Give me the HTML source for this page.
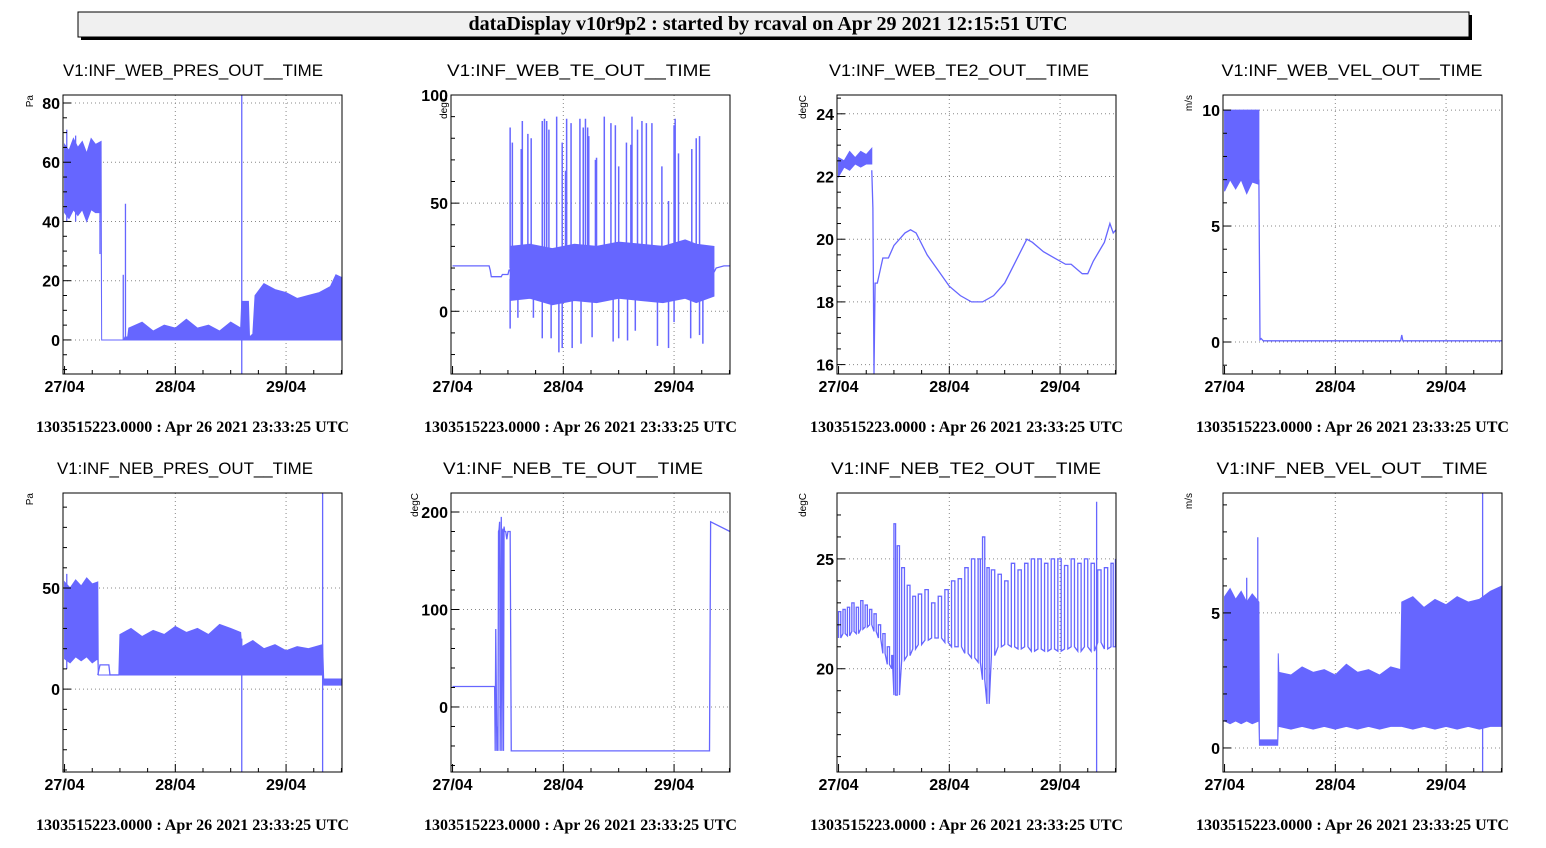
<!DOCTYPE html>
<html><head><meta charset="utf-8">
<style>
html,body{margin:0;padding:0;background:#fff;}
svg{display:block;}
.t{font-family:"Liberation Sans",sans-serif;font-size:17px;fill:#000;}
.tk{font-family:"Liberation Sans",sans-serif;font-size:16px;font-weight:bold;fill:#000;}
.ft{font-family:"Liberation Serif",serif;font-size:16px;font-weight:bold;fill:#000;}
.un{font-family:"Liberation Sans",sans-serif;font-size:10px;fill:#000;}
</style></head>
<body>
<svg id="page" width="1546" height="848" viewBox="0 0 1546 848" xmlns="http://www.w3.org/2000/svg">
<rect x="81" y="15" width="1391" height="25" fill="#000"/>
<rect x="78" y="12" width="1391" height="25" fill="#f0f0f0" stroke="#000" stroke-width="1"/>
<text x="768" y="30" text-anchor="middle" font-family="Liberation Serif, serif" font-weight="bold" font-size="20" textLength="599" lengthAdjust="spacingAndGlyphs">dataDisplay v10r9p2 : started by rcaval on Apr 29 2021 12:15:51 UTC</text>
<g id="panels"></g>
</svg>
<script>
// time axis (days since 27/04 00:00)
const xTickLabels = ["27/04","28/04","29/04"];
const xTickDays = [0,1,2];
const tMin = -0.014, tMax = 2.505;

// ---------- Panel 1: WEB PRES ----------
const p1BandT  = [0,0.04,0.08,0.12,0.16,0.2,0.24,0.28,0.33,0.335,0.53,0.535,0.545,0.55,0.57,0.58,0.7,0.8,0.9,1.0,1.1,1.2,1.3,1.4,1.5,1.59,1.6,1.62,1.66,1.67,1.7,1.72,1.8,1.9,2.0,2.1,2.2,2.3,2.4,2.45,2.505];
const p1BandLo = [43,41,44,42,44,40,44,43,43,0,0,0,0,0,0,0,0,0,0,0,0,0,0,0,0,0,0,0,0,0,0,0,0,0,0,0,0,0,0,0,0];
const p1BandHi = [66,64,68,65,67,63,68,66,67,0,0,0,1,1,1,4,6,3,5,4,7,4,5,3,6,4,13,13,13,1,2,15,19,17,16,14,15,16,18,22,21];
const p1SpikeT  = [0.02,0.1,0.32,0.53,0.55,1.6];
const p1SpikeLo = [40,40,29,0,0,-11.5];
const p1SpikeHi = [71,69,66,22,46,82.7];

// ---------- Panel 2: WEB TE ----------
const p2LineT = [0,0.33,0.34,0.35,0.44,0.45,0.5,0.51,0.52];
const p2LineV = [21,21,19,16,16,17,17,19,19];
const p2BandT  = [0.52,0.7,0.9,1.1,1.3,1.5,1.7,1.9,2.1,2.2,2.36];
const p2BandLo = [5,6,3,5,4,6,5,4,6,4,7];
const p2BandHi = [30,31,29,31,30,32,31,30,33,31,30];
const p2Line2T = [2.36,2.38,2.45,2.505];
const p2Line2V = [18,20,21,21];
const p2UpT = [0.52,0.54,0.62,0.63,0.68,0.71,0.81,0.83,0.85,0.87,0.94,0.99,1.02,1.03,1.07,1.15,1.18,1.20,1.22,1.23,1.29,1.30,1.37,1.43,1.47,1.50,1.57,1.61,1.62,1.67,1.71,1.75,1.80,1.89,1.95,2.00,2.01,2.04,2.16,2.20,2.23];
const p2UpV = [85,78,75,88,82,80,88,89,88,84,90,78,65,89,87,89,85,89,85,81,70,71,90,87,86,67,78,77,90,84,88,87,87,67,51,86,89,73,75,80,81];
const p2DnT = [0.52,0.59,0.73,0.81,0.89,0.96,0.99,1.08,1.16,1.26,1.45,1.50,1.58,1.65,1.85,1.95,2.00,2.15,2.23,2.26];
const p2DnV = [-8,-3,-3,-12.5,-12.5,-19,-17,-17,-15,-12,-14,-12.5,-13.5,-9,-16,-17,-5,-12.5,-11,-15];

// ---------- Panel 3: WEB TE2 ----------
const p3BandT  = [0,0.05,0.1,0.15,0.2,0.25,0.3];
const p3BandLo = [22.0,22.3,22.2,22.4,22.3,22.4,22.4];
const p3BandHi = [22.6,22.5,22.8,22.6,22.8,22.7,22.9];
const p3LineT = [0.3,0.31,0.32,0.33,0.35,0.4,0.45,0.5,0.6,0.65,0.7,0.8,0.9,1.0,1.1,1.2,1.3,1.4,1.5,1.6,1.7,1.75,1.85,1.95,2.05,2.1,2.2,2.25,2.3,2.35,2.4,2.45,2.48,2.505];
const p3LineV = [22.2,21.0,15.7,18.6,18.6,19.4,19.4,19.8,20.2,20.3,20.2,19.5,19.0,18.5,18.2,18.0,18.0,18.2,18.6,19.3,20.0,19.9,19.6,19.4,19.2,19.2,18.9,18.9,19.3,19.6,19.9,20.5,20.2,20.3];

// ---------- Panel 4: WEB VEL ----------
const p4BandT  = [0,0.05,0.1,0.15,0.2,0.25,0.31];
const p4BandLo = [6.5,7.0,6.6,7.0,6.4,6.9,6.8];
const p4BandHi = [10,10,10,10,10,10,10];
const p4LineT = [0.31,0.32,0.33,0.35,1.0,1.59,1.6,1.61,2.505];
const p4LineV = [7.0,0.1,0.15,0.05,0.05,0.05,0.3,0.05,0.05];

// ---------- Panel 5: NEB PRES ----------
const p5BandT  = [0,0.05,0.1,0.15,0.2,0.25,0.3,0.305,0.49,0.5,0.6,0.7,0.8,0.9,1.0,1.1,1.2,1.3,1.4,1.5,1.59,1.6,1.7,1.8,1.9,2.0,2.1,2.2,2.33,2.34,2.505];
const p5BandLo = [15,13,16,14,16,13,15,7,7,7,7,7,7,7,7,7,7,7,7,7,7,7,7,7,7,7,7,7,7,2,2];
const p5BandHi = [53,50,54,51,55,52,53,7,7,27,30,26,29,27,31,28,30,27,32,30,28,21,24,20,22,19,21,20,22,5,5];
const p5LineT = [0.3,0.32,0.4,0.41,0.49];
const p5LineV = [7,12,12,7,7];
const p5SpikeT  = [0.02,1.6,2.33];
const p5SpikeLo = [10,-41,-41];
const p5SpikeHi = [57,25,97];

// ---------- Panel 6: NEB TE ----------
const p6LineT = [0,0.38,0.385,0.39,0.4,0.405,0.41,0.415,0.42,0.425,0.43,0.44,0.445,0.45,0.455,0.46,0.465,0.47,0.48,0.49,0.5,0.52,0.53,2.32,2.33,2.505];
const p6LineV = [21,21,-45,80,-45,-20,-45,180,182,190,-45,195,-45,180,183,-45,185,180,180,172,180,180,-45,-45,190,180];

// ---------- Panel 7: NEB TE2 ----------
const p7EnvT  = [0,0.04,0.08,0.12,0.16,0.2,0.24,0.28,0.32,0.36,0.4,0.44,0.48,0.5,0.53,0.57,0.62,0.67,0.72,0.78,0.84,0.9,0.96,1.02,1.08,1.14,1.2,1.26,1.3,1.34,1.38,1.44,1.5,1.56,1.62,1.68,1.74,1.8,1.86,1.92,1.98,2.04,2.1,2.16,2.22,2.28,2.34,2.4,2.46,2.5];
const p7EnvLo = [21.4,21.6,21.5,21.7,21.6,21.8,21.9,22.0,21.7,21.4,20.7,20.2,20.0,18.8,18.8,20.4,20.6,20.9,21.1,21.3,21.4,21.4,21.2,21.0,21.0,20.7,20.5,20.3,19.5,18.4,20.6,21.0,21.1,21.0,20.9,21.0,20.8,20.9,20.8,20.9,20.8,20.9,21.0,20.8,21.0,20.8,21.2,20.9,21.0,21.0];
const p7EnvHi = [22.6,22.7,22.8,23.0,22.8,23.1,22.9,22.7,22.5,22.0,21.6,21.0,20.6,26.6,25.6,24.6,23.8,23.3,23.4,23.6,23.0,23.3,23.6,24.0,24.1,24.6,25.0,25.0,26.0,24.6,24.5,24.3,24.0,24.8,24.5,24.8,25.0,25.0,24.8,25.0,25.0,24.7,25.0,24.8,25.0,24.8,24.5,24.6,24.8,25.0];
const p7SpikeT  = [2.33];
const p7SpikeLo = [15.3];
const p7SpikeHi = [27.6];

// ---------- Panel 8: NEB VEL ----------
const p8BandT  = [0,0.05,0.1,0.15,0.2,0.25,0.31,0.315,0.48,0.485,0.49,0.6,0.7,0.8,0.9,1.0,1.1,1.2,1.3,1.4,1.5,1.59,1.6,1.7,1.8,1.9,2.0,2.1,2.2,2.3,2.4,2.505];
const p8BandLo = [1.0,0.9,1.0,0.9,1.0,0.9,1.0,0.1,0.1,0.8,0.8,0.7,0.8,0.7,0.8,0.7,0.8,0.7,0.8,0.7,0.8,0.8,0.8,0.7,0.8,0.7,0.8,0.7,0.8,0.7,0.8,0.8];
const p8BandHi = [5.6,5.9,5.5,5.8,5.4,5.7,5.4,0.3,0.3,3.5,2.8,2.7,3.0,2.8,2.9,2.7,3.1,2.8,2.9,2.7,3.0,2.9,5.4,5.6,5.2,5.5,5.3,5.6,5.4,5.5,5.8,6.0];
const p8SpikeT  = [0.2,0.3,2.33];
const p8SpikeLo = [1,1,-0.89];
const p8SpikeHi = [6.3,7.8,9.44];

const panels = [
 {name:"web-pres",title:"V1:INF_WEB_PRES_OUT__TIME",unit:"Pa",x:63,y:95,ymin:-11.5,ymax:82.7,major:20,minor:5,uX:33,tc:193,tl:260,
  band:[p1BandT,p1BandLo,p1BandHi],spikes:[p1SpikeT,p1SpikeLo,p1SpikeHi]},
 {name:"web-te",title:"V1:INF_WEB_TE_OUT__TIME",unit:"degC",x:451,y:95,ymin:-29,ymax:100,major:50,minor:10,uX:447,tc:579,tl:264,
  lines:[[p2LineT,p2LineV],[p2Line2T,p2Line2V]],band:[p2BandT,p2BandLo,p2BandHi],up:[p2UpT,p2UpV],dn:[p2DnT,p2DnV]},
 {name:"web-te2",title:"V1:INF_WEB_TE2_OUT__TIME",unit:"degC",x:837,y:95,ymin:15.7,ymax:24.6,major:2,minor:0.5,uX:806,tc:959,tl:260,
  band:[p3BandT,p3BandLo,p3BandHi],lines:[[p3LineT,p3LineV]]},
 {name:"web-vel",title:"V1:INF_WEB_VEL_OUT__TIME",unit:"m/s",x:1223,y:95,ymin:-1.38,ymax:10.65,major:5,minor:1,uX:1192,tc:1352,tl:261,
  band:[p4BandT,p4BandLo,p4BandHi],lines:[[p4LineT,p4LineV]]},
 {name:"neb-pres",title:"V1:INF_NEB_PRES_OUT__TIME",unit:"Pa",x:63,y:493,ymin:-41,ymax:97,major:50,minor:10,uX:33,tc:185,tl:256,
  band:[p5BandT,p5BandLo,p5BandHi],lines:[[p5LineT,p5LineV]],spikes:[p5SpikeT,p5SpikeLo,p5SpikeHi]},
 {name:"neb-te",title:"V1:INF_NEB_TE_OUT__TIME",unit:"degC",x:451,y:493,ymin:-66.7,ymax:219.5,major:100,minor:20,uX:418,tc:573,tl:260,
  lines:[[p6LineT,p6LineV]]},
 {name:"neb-te2",title:"V1:INF_NEB_TE2_OUT__TIME",unit:"degC",x:837,y:493,ymin:15.3,ymax:28,major:5,minor:1,uX:806,tc:966,tl:270,
  env:[p7EnvT,p7EnvLo,p7EnvHi],spikes:[p7SpikeT,p7SpikeLo,p7SpikeHi]},
 {name:"neb-vel",title:"V1:INF_NEB_VEL_OUT__TIME",unit:"m/s",x:1223,y:493,ymin:-0.89,ymax:9.44,major:5,minor:1,uX:1192,tc:1352,tl:271,
  band:[p8BandT,p8BandLo,p8BandHi],spikes:[p8SpikeT,p8SpikeLo,p8SpikeHi]}
];

const NS="http://www.w3.org/2000/svg";
const W=279,H=279,COL="#6666ff";
const root=document.getElementById("panels");
function mk(tag,attrs,parent){const e=document.createElementNS(NS,tag);for(const k in attrs)e.setAttribute(k,attrs[k]);parent.appendChild(e);return e;}

panels.forEach(p=>{
 const g=mk("g",{},root);
 
 
 const xs=t=>p.x+(t-tMin)/(tMax-tMin)*W;
 const ys=v=>p.y+H-(v-p.ymin)/(p.ymax-p.ymin)*H;
 const clip="clip-"+p.name;
 const cp=mk("clipPath",{id:clip},g);mk("rect",{x:p.x,y:p.y,width:W,height:H},cp);
 const tt=mk("text",{x:p.tc,y:p.y-19,"text-anchor":"middle",class:"t",textLength:p.tl,lengthAdjust:"spacingAndGlyphs"},g);tt.textContent=p.title;
 
 
 const un=mk("text",{transform:`translate(${p.uX},${p.y}) rotate(-90)`,"text-anchor":"end",class:"un"},g);un.textContent=p.unit;
 
 
 const gg=mk("g",{stroke:"#888","stroke-width":1,"stroke-dasharray":"1,3"},g);
 
 
 xTickDays.forEach(d=>{const x=xs(d);if(x>p.x+2)mk("line",{x1:x,x2:x,y1:p.y,y2:p.y+H},gg);});
 const first=Math.ceil(p.ymin/p.major)*p.major;
 for(let v=first;v<=p.ymax+1e-9;v+=p.major){const y=ys(v);mk("line",{x1:p.x,x2:p.x+W,y1:y,y2:y},gg);}
 const dg=mk("g",{"clip-path":`url(#${clip})`},g);
 
 
 if(p.band){const [T,L,Hh]=p.band;let d="";
  T.forEach((t,i)=>{d+=(i?"L":"M")+xs(t)+","+ys(Hh[i]);});
  for(let i=T.length-1;i>=0;i--)d+="L"+xs(T[i])+","+ys(L[i]);
  const b=mk("path",{d:d+"Z",fill:COL,stroke:COL,"stroke-width":1},dg);
  
  }
 if(p.env){const [T,L,Hh]=p.env;let d="";
  T.forEach((t,i)=>{const x=xs(t);d+=(i?"L":"M")+x+","+ys(L[i])+"L"+x+","+ys(Hh[i]);
   if(i<T.length-1){const xm=(x+xs(T[i+1]))/2;d+="L"+xm+","+ys(Hh[i])+"L"+xm+","+ys(L[i]);}});
  const b=mk("path",{d:d,fill:"none",stroke:COL,"stroke-width":1.3},dg);
  
  }
 (p.lines||[]).forEach(([T,V])=>{let d="";T.forEach((t,i)=>{d+=(i?"L":"M")+xs(t)+","+ys(V[i]);});
  const l=mk("path",{d:d,fill:"none",stroke:COL,"stroke-width":1.3},dg);
  
  });
 if(p.spikes){const [T,L,Hh]=p.spikes;T.forEach((t,i)=>{
  const s=mk("line",{x1:xs(t),x2:xs(t),y1:ys(L[i]),y2:ys(Hh[i]),stroke:COL,"stroke-width":1.3},dg);
  
  });}
 if(p.up){const [T,V]=p.up;T.forEach((t,i)=>{
  const s=mk("line",{x1:xs(t),x2:xs(t),y1:ys(20),y2:ys(V[i]),stroke:COL,"stroke-width":1.5},dg);
  
  });}
 if(p.dn){const [T,V]=p.dn;T.forEach((t,i)=>{
  const s=mk("line",{x1:xs(t),x2:xs(t),y1:ys(15),y2:ys(V[i]),stroke:COL,"stroke-width":1.5},dg);
  
  });}
 const fr=mk("rect",{x:p.x,y:p.y,width:W,height:H,fill:"none",stroke:"#000","stroke-width":1},g);
 
 
 const tg=mk("g",{stroke:"#000","stroke-width":1},g);
 for(let q=0;q<=10;q++){const t=q*0.25;const x=xs(t);if(x<p.x||x>p.x+W)continue;
  const len=(q%4===0)?8:4;mk("line",{x1:x,x2:x,y1:p.y+H,y2:p.y+H-len},tg);}
 const mf=Math.ceil(p.ymin/p.minor);
 for(let k=mf;k*p.minor<=p.ymax+1e-9;k++){const v=k*p.minor;const y=ys(v);
  const isMaj=Math.abs(v/p.major-Math.round(v/p.major))<1e-6;
  mk("line",{x1:p.x,x2:p.x+(isMaj?8:4),y1:y,y2:y},tg);}
 xTickDays.forEach((d,i)=>{const l=mk("text",{x:xs(d),y:p.y+H+18,"text-anchor":"middle",class:"tk"},g);l.textContent=xTickLabels[i];
  
  });
 for(let v=first;v<=p.ymax+1e-9;v+=p.major){const l=mk("text",{x:p.x-3,y:ys(v)+6,"text-anchor":"end",class:"tk"},g);l.textContent=String(Math.round(v*100)/100);
  
  }
 const f=mk("text",{x:p.x+W/2-10,y:p.y+H+58,"text-anchor":"middle",class:"ft",textLength:313,lengthAdjust:"spacingAndGlyphs"},g);f.textContent="1303515223.0000 : Apr 26 2021 23:33:25 UTC";
 
 
});
</script>
</body></html>
